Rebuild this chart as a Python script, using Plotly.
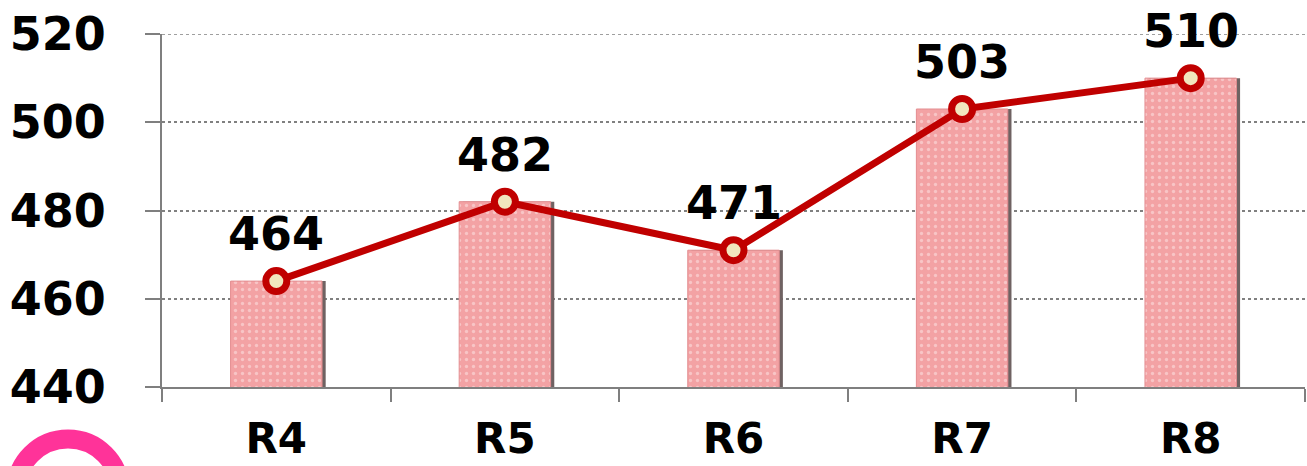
import plotly.graph_objects as go

# Scores by round
rounds = ["R4", "R5", "R6", "R7", "R8"]
scores = [464, 482, 471, 503, 510]
y_ticks = [440, 460, 480, 500, 520]

W, H = 1307, 466
M_L, M_R, M_T, M_B = 162, 2, 34, 79
PLOT_W = W - M_L - M_R
PLOT_H = H - M_T - M_B

FONT = dict(family="DejaVu Sans", color="black", weight="bold")
AXIS_GRAY = "#7f7f7f"
LINE_RED = "#C00000"
BAR_PINK = "#F3A2A4"

fig = go.Figure()

# soft shadow behind each bar (right edge)
fig.add_trace(go.Bar(
    x=rounds, y=scores, width=0.4, offset=-0.2 + 0.016,
    marker=dict(color="#6f6262", line=dict(width=0)),
    hoverinfo="skip", showlegend=False,
))

# dotted pink bars
fig.add_trace(go.Bar(
    x=rounds, y=scores, width=0.4, offset=-0.2,
    marker=dict(
        color=BAR_PINK,
        line=dict(color="#E38D90", width=1),
        pattern=dict(shape=".", fgcolor="rgba(255,255,255,0.75)",
                     bgcolor=BAR_PINK, size=7, solidity=0.18),
    ),
    showlegend=False,
))

# trend line with cream markers
fig.add_trace(go.Scatter(
    x=rounds, y=scores, mode="lines+markers",
    line=dict(color=LINE_RED, width=7),
    marker=dict(size=21, color="#F1E6BE", line=dict(color=LINE_RED, width=7)),
    showlegend=False,
))

# value labels above the markers
for r, v in zip(rounds, scores):
    fig.add_annotation(
        x=r, y=v, text=str(v), showarrow=False,
        yanchor="middle", yshift=47,
        font=dict(FONT, size=46),
    )

# dotted line along the top tick (the grid skips the range edge)
fig.add_shape(
    type="line", xref="paper", yref="y", x0=0, x1=1,
    y0=max(y_ticks), y1=max(y_ticks),
    line=dict(color="#808080", width=1.5, dash="dot"), layer="below",
)

# decorative pink ring in the lower-left corner
cx, cy, rad = 68, 491, 52
fig.add_shape(
    type="circle", xref="paper", yref="paper",
    x0=(cx - rad - M_L) / PLOT_W, x1=(cx + rad - M_L) / PLOT_W,
    y0=(H - M_B - (cy + rad)) / PLOT_H, y1=(H - M_B - (cy - rad)) / PLOT_H,
    line=dict(color="#FF3399", width=19), layer="above",
)

fig.update_layout(
    width=W, height=H,
    margin=dict(l=M_L, r=M_R, t=M_T, b=M_B, autoexpand=False),
    paper_bgcolor="white", plot_bgcolor="white",
    barmode="overlay",
    xaxis=dict(
        type="category", showgrid=False, automargin=False,
        showline=True, linecolor=AXIS_GRAY, linewidth=2,
        ticks="outside", tickson="boundaries", ticklen=13,
        tickcolor=AXIS_GRAY, tickwidth=2,
        ticklabelstandoff=14,
        tickfont=dict(FONT, size=42),
    ),
    yaxis=dict(
        range=[440, 520], tickvals=y_ticks, automargin=False,
        showgrid=True, gridcolor="#808080", gridwidth=1.5, griddash="dot",
        showline=True, linecolor=AXIS_GRAY, linewidth=2,
        ticks="outside", ticklen=15, tickcolor=AXIS_GRAY, tickwidth=2,
        ticklabelstandoff=30,
        tickfont=dict(FONT, size=46),
        zeroline=False,
    ),
)

fig.write_html("out.html")
